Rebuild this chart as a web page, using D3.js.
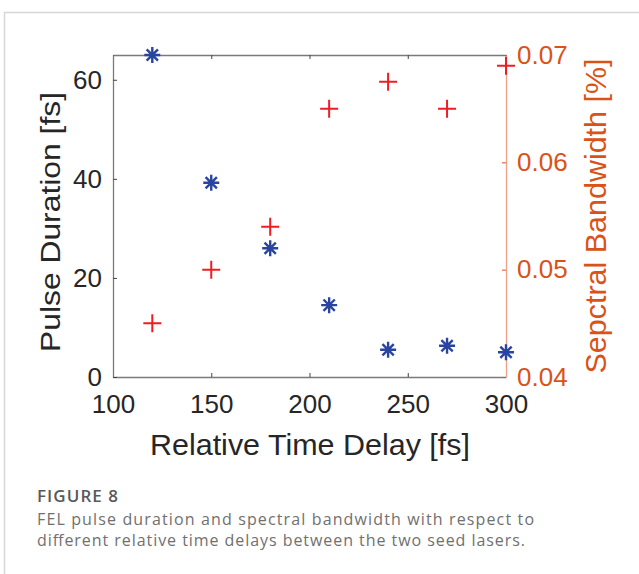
<!DOCTYPE html>
<html lang="en">
<head>
    <meta charset="utf-8">
    <title>FEL pulse duration</title>
    <script src="https://d3js.org/d3.v7.min.js"></script>
    <style>
        body { margin: 0; background: #fff; }
    </style>
</head>
<body onload="main()">
    <svg width="639" height="574" id="svg1"></svg>
    <script>
        // values
        var delays = [120, 150, 180, 210, 240, 270, 300];
        var pulseDuration = [65, 39.2, 26, 14.5, 5.5, 6.3, 5.0];
        var bandwidth = [0.045, 0.050, 0.054, 0.065, 0.0675, 0.065, 0.069];
        var xTicks = [100, 150, 200, 250, 300];
        var yLeftTicks = [0, 20, 40, 60];
        var yRightTicks = [0.04, 0.05, 0.06, 0.07];

        function main() {
            var svg = d3.select("#svg1");
            var left = 113, top = 55, right = 506, bottom = 377;

            // card border
            svg.append("path")
                .attr("d", "M4.5,574 V12.5 H639")
                .attr("fill", "none")
                .attr("stroke", "#d6d6d6")
                .attr("stroke-width", 1.5);

            var x = d3.scaleLinear().domain([100, 300]).range([left, right]);
            var yL = d3.scaleLinear().domain([0, 65]).range([bottom, top]);
            var yR = d3.scaleLinear().domain([0.04, 0.07]).range([bottom, top]);

            var font = "'Liberation Sans', Arial, sans-serif";

            // bottom axis
            var gx = svg.append("g")
                .attr("transform", "translate(0," + bottom + ")")
                .call(d3.axisBottom(x).tickValues(xTicks).tickSizeInner(-4).tickSizeOuter(0).tickPadding(18));
            gx.select(".domain").attr("stroke", "#7a7a7a").attr("stroke-width", 1.3);
            gx.selectAll(".tick line").attr("stroke", "#444");
            gx.selectAll("text").attr("font-family", font).attr("font-size", "26px").attr("fill", "#262626");

            // top axis (ticks only)
            var gt = svg.append("g")
                .attr("transform", "translate(0," + top + ")")
                .call(d3.axisTop(x).tickValues(xTicks).tickSizeInner(-4).tickSizeOuter(0).tickFormat(""));
            gt.select(".domain").attr("stroke", "#7a7a7a").attr("stroke-width", 1.3);
            gt.selectAll(".tick line").attr("stroke", "#444");

            // left axis
            var gy = svg.append("g")
                .attr("transform", "translate(" + left + ",0)")
                .call(d3.axisLeft(yL).tickValues(yLeftTicks).tickSizeInner(-4).tickSizeOuter(0).tickPadding(11));
            gy.select(".domain").attr("stroke", "#7a7a7a").attr("stroke-width", 1.3);
            gy.selectAll(".tick line").attr("stroke", "#444");
            gy.selectAll("text").attr("font-family", font).attr("font-size", "26px").attr("fill", "#262626");

            // right axis
            var gr = svg.append("g")
                .attr("transform", "translate(" + right + ",0)")
                .call(d3.axisRight(yR).tickValues(yRightTicks).tickSizeInner(-4).tickSizeOuter(0).tickPadding(11)
                    .tickFormat(d3.format(".2f")));
            gr.select(".domain").attr("stroke", "#f0a088").attr("stroke-width", 1.3);
            gr.selectAll(".tick line").attr("stroke", "#d95319");
            gr.selectAll("text").attr("font-family", font).attr("font-size", "26px").attr("fill", "#d95319");

            // axis titles
            svg.append("text")
                .attr("x", 310)
                .attr("y", 455)
                .attr("text-anchor", "middle")
                .attr("font-family", font)
                .attr("font-size", "30px")
                .attr("textLength", 320)
                .attr("lengthAdjust", "spacingAndGlyphs")
                .attr("fill", "#262626")
                .text("Relative Time Delay [fs]");
            svg.append("text")
                .attr("transform", "translate(60,222) rotate(-90)")
                .attr("text-anchor", "middle")
                .attr("font-family", font)
                .attr("font-size", "27px")
                .attr("textLength", 260)
                .attr("lengthAdjust", "spacingAndGlyphs")
                .attr("fill", "#262626")
                .text("Pulse Duration [fs]");
            svg.append("text")
                .attr("transform", "translate(606,216) rotate(-90)")
                .attr("text-anchor", "middle")
                .attr("font-family", font)
                .attr("font-size", "29px")
                .attr("textLength", 315)
                .attr("lengthAdjust", "spacingAndGlyphs")
                .attr("fill", "#d95319")
                .text("Sepctral Bandwidth [%]");

            // red plus markers
            svg.selectAll(".plus")
                .data(delays)
                .enter().append("path")
                .attr("class", "plus")
                .attr("d", function (d, i) {
                    var cx = x(d), cy = yR(bandwidth[i]), s = 9;
                    return "M" + (cx - s) + "," + cy + "H" + (cx + s) + "M" + cx + "," + (cy - s) + "V" + (cy + s);
                })
                .attr("stroke", "#ee1d24")
                .attr("stroke-width", 2)
                .attr("fill", "none");

            // blue asterisk markers
            svg.selectAll(".star")
                .data(delays)
                .enter().append("path")
                .attr("class", "star")
                .attr("d", function (d, i) {
                    var cx = x(d), cy = yL(pulseDuration[i]), s = 8, p = "";
                    for (var k = 0; k < 4; k++) {
                        var a = k * Math.PI / 4;
                        var dx = s * Math.sin(a), dy = s * Math.cos(a);
                        p += "M" + (cx - dx) + "," + (cy - dy) + "L" + (cx + dx) + "," + (cy + dy);
                    }
                    return p;
                })
                .attr("stroke", "#2a45a0")
                .attr("stroke-width", 2.4)
                .attr("fill", "none");

            // caption
            var cap = "'Open Sans', 'Noto Sans', sans-serif";
            svg.append("text")
                .attr("x", 37).attr("y", 502)
                .attr("font-family", cap)
                .attr("font-size", "17px")
                .attr("font-weight", "600")
                .attr("textLength", 81)
                .attr("lengthAdjust", "spacing")
                .attr("fill", "#595959")
                .text("FIGURE 8");
            svg.append("text")
                .attr("x", 37).attr("y", 525)
                .attr("font-family", cap)
                .attr("font-size", "16px")
                .attr("textLength", 497)
                .attr("lengthAdjust", "spacing")
                .attr("fill", "#707070")
                .text("FEL pulse duration and spectral bandwidth with respect to");
            svg.append("text")
                .attr("x", 37).attr("y", 546)
                .attr("font-family", cap)
                .attr("font-size", "16px")
                .attr("textLength", 488)
                .attr("lengthAdjust", "spacing")
                .attr("fill", "#707070")
                .text("different relative time delays between the two seed lasers.");
        }
    </script>
</body>
</html>
